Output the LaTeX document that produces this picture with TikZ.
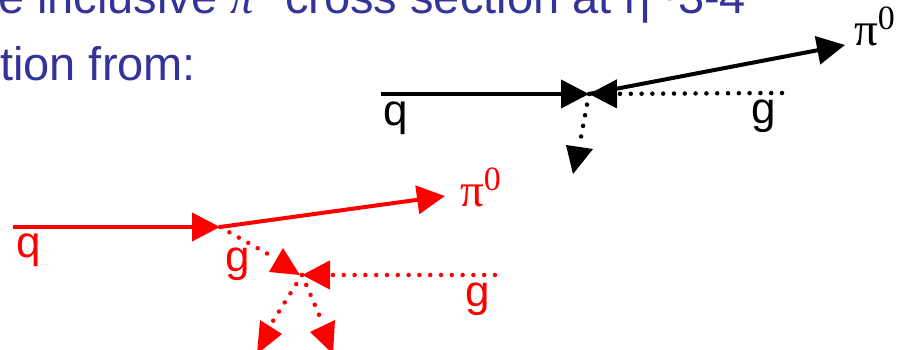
\documentclass[tikz,border=0pt]{standalone}
\usepackage{fontspec}
\setmainfont{Liberation Sans}
\newfontfamily\pifont{Liberation Serif}
\usetikzlibrary{arrows.meta}
\definecolor{titleblue}{HTML}{333399}
\definecolor{pred}{HTML}{FF0000}
\begin{document}
\begin{tikzpicture}[x=1pt,y=-1pt,
  lbl/.style={inner sep=0pt, anchor=base west, font=\fontsize{44}{50}\selectfont},
  pilbl/.style={inner sep=0pt, anchor=base west, font=\fontsize{47}{52}\selectfont\pifont},
  ttl/.style={inner sep=0pt, anchor=base west, text=titleblue, font=\fontsize{47}{56}\selectfont},
  solidarrow/.style={line width=4pt, -{Triangle[length=28pt,width=28pt]}},
  dotline/.style={line width=4.5pt, line cap=round, dash pattern=on 0pt off 10.8pt},
  dotarrow/.style={dotline, -{Triangle[length=28pt,width=28pt]}},
]
\useasboundingbox (0,0) rectangle (910,350);
\clip (0,0) rectangle (910,350);

% title text (cut by the frame)
\node[ttl] (t1) at (-2,14) {e inclusive {\pifont\itshape π}\raisebox{15pt}{\fontsize{32}{32}\selectfont 0} cross section at η\textasciitilde3-4};
\node[ttl] (t2) at (0,81) {tion from:};

% ---------- black diagram ----------
\coordinate (bq) at (381,94);
\coordinate (bv) at (589,94);
\coordinate (bpi) at (845,45);
\coordinate (bg) at (782,93);
\coordinate (bd) at (581,137);
\draw[solidarrow] (bq) -- (bv);
\draw[solidarrow] (bv) -- (bpi);
\draw[dotarrow] (bg) -- (bv);
\draw[dotline] (bv) -- (bd);
\fill (566,145) -- (593,149) -- (573,174) -- cycle;
\node[lbl] (bql) at (383,126) {q};
\node[lbl] (bgl) at (751,124) {g};
\node[pilbl] (bpil) at (854,46) {π\raisebox{16pt}{\fontsize{34}{34}\selectfont 0}};

% ---------- red diagram ----------
\begin{scope}[color=pred]
\coordinate (rq) at (13,227);
\coordinate (rv) at (220,227);
\coordinate (rpi) at (445,196);
\coordinate (rg1) at (268,254);
\coordinate (rv2) at (302,275);
\coordinate (rg2) at (495,275);
\coordinate (rdl) at (273,321);
\coordinate (rdr) at (323,324);
\draw[solidarrow] (rq) -- (rv);
\draw[solidarrow] (rv) -- (rpi);
\draw[dotline] (rv) -- (rg1);
\fill (283,248) -- (269,272) -- (300,275) -- cycle;
\draw[dotarrow] (rg2) -- (rv2);
\draw[dotline] (rv2) -- (rdl);
\fill (260,320) -- (282,334) -- (257,354) -- cycle;
\draw[dotline] (rv2) -- (rdr);
\fill (335,320) -- (310,332) -- (333,354) -- cycle;
\node[lbl, text=pred] (rql) at (16,257) {q};
\node[lbl, text=pred] (rg1l) at (225,271) {g};
\node[lbl, text=pred] (rg2l) at (465,306) {g};
\node[pilbl, text=pred] (rpil) at (460,206) {π\raisebox{16pt}{\fontsize{34}{34}\selectfont 0}};
\end{scope}
\end{tikzpicture}
\end{document}
